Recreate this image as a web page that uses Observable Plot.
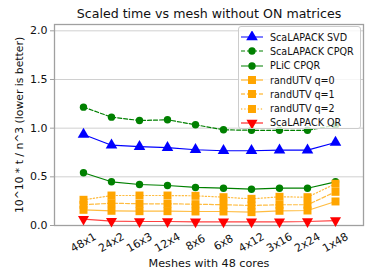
<!DOCTYPE html>
<html><head><meta charset="utf-8">
<script src="https://cdn.jsdelivr.net/npm/d3@7"></script>
<script src="https://cdn.jsdelivr.net/npm/@observablehq/plot@0.6"></script>
<style>
body{margin:0;background:#fff;font-family:"DejaVu Sans",sans-serif;}
#wrap{position:relative;width:374px;height:280px;}
#legend{position:absolute;left:238px;top:26px;width:123px;height:103px;box-sizing:border-box;
 background:rgba(255,255,255,0.8);border:1px solid #ccc;border-radius:3px;padding-top:3px;overflow:hidden;}
.row{display:flex;align-items:center;height:14.3px;font-size:9.6px;color:#111;white-space:nowrap;font-family:"DejaVu Sans",sans-serif;}
.row svg{margin-left:1px;margin-right:6px;flex:none;}
</style>
</head><body><div id="wrap"><div id="chart"></div><div id="legend"></div></div>
<script>
const title = "Scaled time vs mesh without ON matrices";
const xLabel = "Meshes with 48 cores";
const yLabel = "10^10 * t / n^3 (lower is better)";
const meshes = ["48x1","24x2","16x3","12x4","8x6","6x8","4x12","3x16","2x24","1x48"];
const yTicks = [0, 0.5, 1.0, 1.5, 2.0];

const seriesNames = ["ScaLAPACK SVD","ScaLAPACK CPQR","PLiC CPQR","randUTV q=0","randUTV q=1","randUTV q=2","ScaLAPACK QR"];
const scalapackSVD  = [0.935,0.825,0.810,0.800,0.778,0.768,0.768,0.774,0.774,0.853];
const scalapackCPQR = [1.216,1.113,1.079,1.086,1.035,0.983,0.978,0.978,0.978,1.030];
const plicCPQR      = [0.542,0.449,0.421,0.411,0.391,0.383,0.373,0.383,0.383,0.449];
const randUTVq0     = [0.161,0.151,0.147,0.147,0.144,0.144,0.137,0.151,0.154,0.247];
const randUTVq1     = [0.213,0.229,0.223,0.223,0.219,0.213,0.206,0.213,0.213,0.346];
const randUTVq2     = [0.264,0.308,0.308,0.308,0.305,0.291,0.274,0.295,0.291,0.429];
const scalapackQR   = [0.065,0.044,0.041,0.041,0.038,0.038,0.038,0.038,0.041,0.051];
const seriesValues = [scalapackSVD, scalapackCPQR, plicCPQR, randUTVq0, randUTVq1, randUTVq2, scalapackQR];

// styles
const colors = ["#0000ff","#008000","#008000","#ffa500","#ffa500","#ffa500","#ff0000"];
const dashes = [null,"4,2",null,null,"4,2","1.3,2",null];
const triDown = {draw(ctx, size){
  const y = -Math.sqrt(size / (Math.sqrt(3) * 3));
  ctx.moveTo(0, -y * 2); ctx.lineTo(-Math.sqrt(3) * y, y); ctx.lineTo(Math.sqrt(3) * y, y); ctx.closePath();
}};
const symbols = ["triangle","circle","circle","square","square","square",triDown];
const radii = [4.3,3.7,3.7,4.5,4.5,4.5,4.1];

const table = seriesNames.map((name, s) => meshes.map((m, i) => ({series: name, mesh: m, v: seriesValues[s][i]})));

const marks = [
  Plot.gridY(yTicks.slice(1), {stroke: "#d0d0d0", strokeOpacity: 1}),
  Plot.frame({stroke: "#a0a0a0", strokeWidth: 1.3}),
  Plot.axisY(yTicks, {tickFormat: d3.format(".1f"), tickSize: 4, stroke: "#a0a0a0", fill: "#111", fontSize: 11, label: null, tickPadding: 3}),
  Plot.text([yLabel], {frameAnchor: "left", textAnchor: "middle", rotate: -90, dx: -35, fontSize: 10.8, fill: "#111"}),
  Plot.text(meshes, {x: d => d, frameAnchor: "bottom", rotate: -30, dy: 17, textAnchor: "middle", lineAnchor: "middle", fontSize: 11, fill: "#111"}),
  Plot.text([xLabel], {frameAnchor: "bottom", lineAnchor: "middle", dy: 38, fontSize: 11.2, fill: "#111"}),
  Plot.text([title], {frameAnchor: "top", lineAnchor: "middle", dy: -11, fontSize: 12.6, fill: "#111"})
];
table.forEach((rows, s) => {
  marks.push(Plot.line(rows, {x: "mesh", y: "v", stroke: colors[s], strokeWidth: 1.2,
    strokeDasharray: dashes[s] || undefined, strokeOpacity: s >= 3 ? 0.75 : 1}));
  marks.push(Plot.dot(rows, {x: "mesh", y: "v", fill: colors[s], stroke: "none", symbol: symbols[s], r: radii[s]}));
});

const chart = Plot.plot({
  width: 374, height: 280,
  marginLeft: 54, marginRight: 11, marginTop: 24, marginBottom: 55,
  style: {fontFamily: "DejaVu Sans, sans-serif", background: "#fff"},
  x: {type: "point", domain: meshes, padding: 1, axis: null},
  y: {domain: [0, 2.065], axis: null},
  marks
});
document.getElementById("chart").append(chart);

// legend
const legend = d3.select("#legend");
seriesNames.forEach((name, s) => {
  const row = legend.append("div").attr("class", "row");
  const svg = row.append("svg").attr("width", 24).attr("height", 12);
  svg.append("line").attr("x1", 1).attr("x2", 23).attr("y1", 6).attr("y2", 6)
    .attr("stroke", colors[s]).attr("stroke-width", 1.2).attr("stroke-dasharray", dashes[s]);
  const sym = typeof symbols[s] === "string"
    ? {triangle: d3.symbolTriangle, circle: d3.symbolCircle, square: d3.symbolSquare}[symbols[s]]
    : symbols[s];
  svg.append("path").attr("transform", "translate(12,6)")
    .attr("d", d3.symbol(sym, radii[s] * radii[s] * Math.PI)()).attr("fill", colors[s]);
  row.append("span").text(name);
});
</script>
</body></html>
